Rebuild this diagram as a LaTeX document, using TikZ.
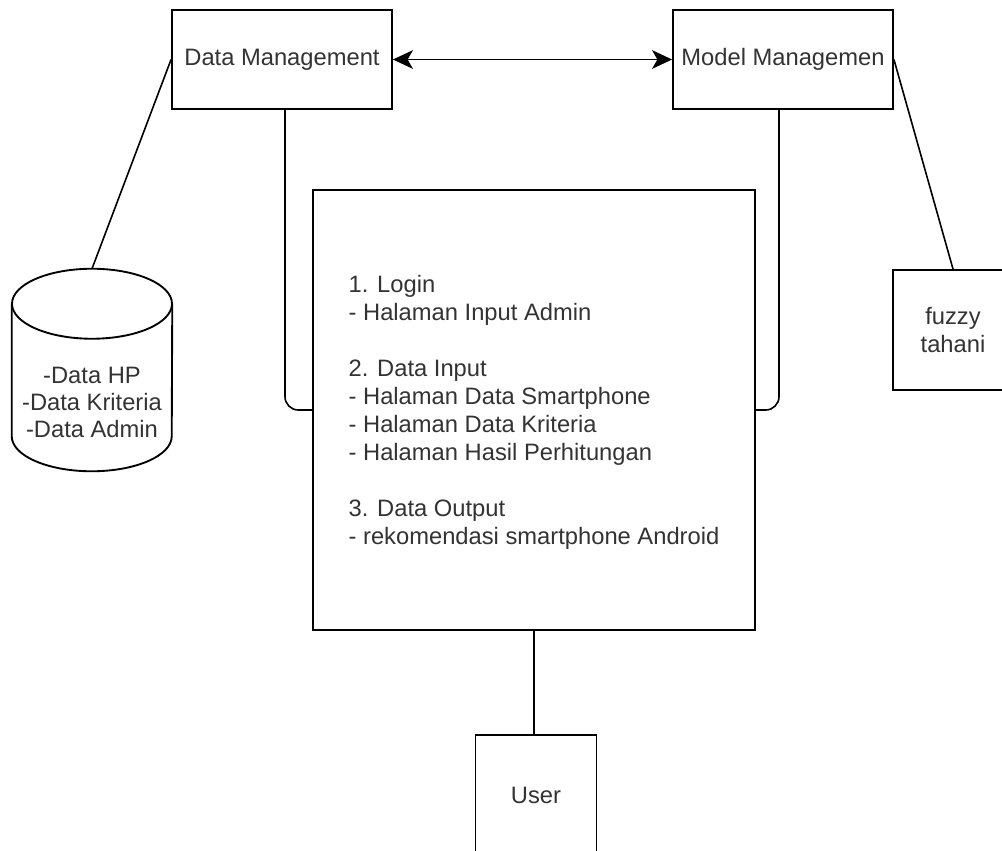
\documentclass[tikz,border=0pt]{standalone}
\usepackage{fontspec}
\setmainfont{Liberation Sans}
\usetikzlibrary{arrows.meta,calc}
\definecolor{txt}{HTML}{333333}
\tikzset{
  box/.style={draw=black, line width=1.4pt, rectangle, inner sep=0pt, text=txt,
    font=\fontsize{17.8}{21}\selectfont, align=center},
  conn/.style={draw=black, line width=1.2pt},
  dbl/.style={conn, {Stealth[length=15pt,width=14pt,inset=4pt]}-{Stealth[length=15pt,width=14pt,inset=4pt]}}
}
\begin{document}
\begin{tikzpicture}[x=0.75pt,y=-0.75pt]
\useasboundingbox (0,0) rectangle (1002,850);
\clip (0,0) rectangle (1002,850);
\fill[white] (0,0) rectangle (1002,850);
% nodes
\node[box, minimum width=165pt, minimum height=74.25pt] (dm) at (282,59.5) {Data Management};
\node[box, minimum width=165pt, minimum height=74.25pt] (mm) at (783,59.5) {Model Managemen};
\node[box, minimum width=331.5pt, minimum height=330pt, align=left, text depth=-4pt] (cb) at (534,410) {1. Login\\
- Halaman Input Admin\\[21pt]
2. Data Input\\
- Halaman Data Smartphone\\
- Halaman Data Kriteria\\
- Halaman Hasil Perhitungan\\[21pt]
3. Data Output\\
- rekomendasi smartphone Android};
\node[draw=none, inner sep=0pt, minimum width=120pt, minimum height=151.5pt] (db) at (92,370) {};
\draw[line width=1.4pt, black]
  ($(db.north west)+(0,35)$) -- ($(db.south west)+(0,-35)$)
  arc[start angle=180, end angle=360, x radius=60pt, y radius=26.25pt]
  -- ($(db.north east)+(0,35)$);
\draw[line width=1.4pt, black] ($(db.north)+(0,35)$) ellipse[x radius=60pt, y radius=26.25pt];
\node[box, draw=none, font=\fontsize{17.8}{20.25}\selectfont] (dbt) at (92,402) {-Data HP\\-Data Kriteria\\-Data Admin};
\node[box, minimum width=90pt, minimum height=90pt] (fz) at (953,330) {fuzzy\\tahani};
\node[box, minimum width=90.75pt, minimum height=90pt] (us) at (536,795) {User};
% connectors
\draw[dbl] (dm.east) -- (mm.west);
\draw[conn] (dm.west) -- (db.north);
\draw[conn] (mm.east) -- (fz.north);
\draw[conn, rounded corners=10pt] ($(dm.south)+(3,0)$) |- (cb.west);
\draw[conn, rounded corners=10pt] ($(mm.south)+(-4,0)$) |- (cb.east);
\draw[conn] (cb.south) -- (cb.south |- us.north);
\end{tikzpicture}
\end{document}
